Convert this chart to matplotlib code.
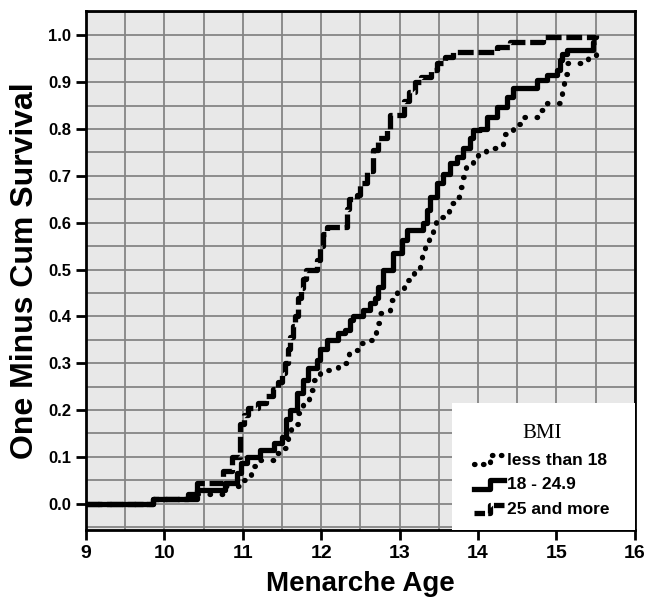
import numpy as np
import matplotlib
matplotlib.use('Agg')
import matplotlib.pyplot as plt
from matplotlib.lines import Line2D
from matplotlib.patches import Rectangle
from matplotlib.legend_handler import HandlerLine2D
from matplotlib import font_manager

# step curves (age where the step starts, cumulative value)
age_low = [9.0, 9.85, 10.3, 10.77, 10.97, 11.1, 11.2, 11.4, 11.5, 11.58, 11.62, 11.7,
           11.77, 11.85, 11.9, 11.98, 12.22, 12.35, 12.48, 12.6, 12.7, 12.72, 12.75,
           12.88, 12.97, 13.05, 13.18, 13.26, 13.28, 13.32, 13.37, 13.43, 13.47, 13.55,
           13.63, 13.72, 13.76, 13.81, 13.85, 13.93, 14.0, 14.1, 14.32, 14.45, 14.55,
           14.8, 14.88, 15.05, 15.07, 15.1, 15.14, 15.4, 15.5]
val_low = [0.0, 0.01, 0.02, 0.037, 0.05, 0.08, 0.093, 0.108, 0.12, 0.143, 0.17, 0.193,
           0.22, 0.243, 0.264, 0.285, 0.30, 0.328, 0.343, 0.35, 0.37, 0.386, 0.407,
           0.435, 0.456, 0.478, 0.50, 0.513, 0.535, 0.556, 0.578, 0.59, 0.612, 0.62,
           0.642, 0.655, 0.676, 0.697, 0.718, 0.74, 0.748, 0.76, 0.79, 0.81, 0.825,
           0.84, 0.855, 0.872, 0.897, 0.918, 0.94, 0.953, 0.96]

age_mid = [9.0, 9.85, 10.3, 10.42, 10.77, 10.92, 10.98, 11.05, 11.22, 11.4, 11.5, 11.55,
           11.6, 11.69, 11.77, 11.83, 11.95, 11.98, 12.07, 12.21, 12.3, 12.37, 12.4,
           12.53, 12.62, 12.69, 12.73, 12.79, 12.92, 13.03, 13.09, 13.3, 13.35, 13.39,
           13.48, 13.55, 13.64, 13.73, 13.81, 13.9, 13.94, 14.03, 14.11, 14.24, 14.37,
           14.45, 14.75, 14.88, 15.01, 15.05, 15.07, 15.14, 15.46, 15.5]
val_mid = [0.0, 0.01, 0.02, 0.03, 0.045, 0.065, 0.087, 0.10, 0.115, 0.13, 0.143, 0.18,
           0.20, 0.236, 0.264, 0.29, 0.307, 0.33, 0.35, 0.364, 0.37, 0.392, 0.40,
           0.413, 0.428, 0.44, 0.463, 0.50, 0.535, 0.563, 0.585, 0.60, 0.627, 0.655,
           0.684, 0.705, 0.727, 0.74, 0.76, 0.78, 0.797, 0.80, 0.825, 0.847, 0.868,
           0.887, 0.904, 0.915, 0.925, 0.947, 0.96, 0.968, 0.985, 0.985]

age_high = [9.0, 9.85, 10.42, 10.75, 10.86, 10.97, 11.02, 11.07, 11.2, 11.3, 11.38,
            11.45, 11.5, 11.54, 11.57, 11.6, 11.64, 11.67, 11.7, 11.74, 11.77, 11.8,
            11.95, 11.98, 12.02, 12.07, 12.33, 12.36, 12.45, 12.5, 12.58, 12.66, 12.73,
            12.84, 12.88, 13.06, 13.12, 13.2, 13.27, 13.4, 13.48, 13.58, 13.68, 14.24,
            14.41, 14.83, 15.5]
val_high = [0.0, 0.01, 0.045, 0.07, 0.10, 0.17, 0.19, 0.205, 0.215, 0.23, 0.245,
            0.26, 0.28, 0.30, 0.33, 0.355, 0.38, 0.40, 0.44, 0.46, 0.48, 0.50,
            0.52, 0.55, 0.575, 0.59, 0.63, 0.65, 0.66, 0.685, 0.71, 0.755, 0.78,
            0.80, 0.83, 0.86, 0.88, 0.90, 0.91, 0.925, 0.94, 0.953, 0.964, 0.975,
            0.985, 0.996, 1.0]

labels = ['less than 18', '18 - 24.9', '25 and more']

installed = {f.name for f in font_manager.fontManager.ttflist}
narrow = 'Liberation Sans Narrow' if 'Liberation Sans Narrow' in installed else 'Liberation Sans'


class StepHandler(HandlerLine2D):
    # legend key drawn as a small step, like the survival curves
    def create_artists(self, legend, orig_handle, xdescent, ydescent,
                       width, height, fontsize, trans):
        x0, x1 = -xdescent, -xdescent + width
        xm = x0 + 0.55 * width
        ylo = -ydescent + 0.05 * height
        yhi = -ydescent + 0.75 * height
        line = Line2D([x0, xm, xm, x1], [ylo, ylo, yhi, yhi])
        self.update_prop(line, orig_handle, legend)
        line.set_transform(trans)
        return [line]


fig = plt.figure(figsize=(6.45, 6.0), dpi=100)
ax = fig.add_axes([0.1333, 0.1167, 0.851, 0.865])
ax.set_facecolor('#e8e8e8')

lw = 3.8
dot_style = (0, (0.1, 2.2))
dash_style = (0, (3.0, 0.9))
ax.plot(age_low, val_low, drawstyle='steps-post', color='black', lw=lw,
        linestyle=dot_style, dash_capstyle='round', label=labels[0], zorder=4)
ax.plot(age_mid, val_mid, drawstyle='steps-post', color='black', lw=lw,
        solid_capstyle='butt', label=labels[1], zorder=4)
ax.plot(age_high, val_high, drawstyle='steps-post', color='black', lw=lw,
        linestyle=dash_style, label=labels[2], zorder=4)

ax.set_xlim(9, 16)
ax.set_ylim(-0.056, 1.052)
ax.set_xticks(np.arange(9, 17, 1))
ax.set_yticks(np.arange(0, 1.01, 0.1))
ax.set_yticklabels([f'{v:.1f}' for v in np.arange(0, 1.01, 0.1)])
ax.set_xticks(np.arange(9, 16.01, 0.5), minor=True)
ax.set_yticks(np.arange(-0.05, 1.051, 0.05), minor=True)
ax.tick_params(which='minor', length=0)
ax.grid(which='both', color='#858585', lw=1.3, zorder=1)
ax.set_axisbelow(True)

ax.tick_params(which='major', direction='out', length=7, width=2, color='black')
for t in ax.get_xticklabels():
    t.set_fontfamily(narrow)
    t.set_fontweight('bold')
    t.set_fontsize(14)
for t in ax.get_yticklabels():
    t.set_fontfamily(narrow)
    t.set_fontweight('bold')
    t.set_fontsize(12)

for s in ax.spines.values():
    s.set_linewidth(2)
    s.set_color('black')

ax.set_xlabel('Menarche Age', fontsize=20, fontweight='bold', family='Liberation Sans', labelpad=7)
ax.set_ylabel('One Minus Cum Survival', fontsize=23, fontweight='bold', family='Liberation Sans', labelpad=6)

# white legend box in the lower right corner
ax.add_patch(Rectangle((0.667, 0.0), 0.333, 0.245, transform=ax.transAxes,
                       facecolor='white', edgecolor='none', zorder=3))
handles = [Line2D([], [], color='black', lw=lw, linestyle=(0, (0.1, 1.6)), dash_capstyle='round'),
           Line2D([], [], color='black', lw=lw),
           Line2D([], [], color='black', lw=lw, linestyle=(0, (2, 0.6)))]
leg = ax.legend(handles, labels, title='BMI', loc='upper left',
                bbox_to_anchor=(0.685, 0.228), frameon=False, handlelength=1.7,
                handletextpad=0.2, labelspacing=0.55, borderpad=0.2,
                prop={'family': narrow, 'weight': 'bold', 'size': 12.5},
                title_fontproperties={'family': 'Liberation Serif', 'size': 15},
                handler_map={Line2D: StepHandler()})
leg.set_zorder(5)

plt.savefig('out.png', dpi=100)
